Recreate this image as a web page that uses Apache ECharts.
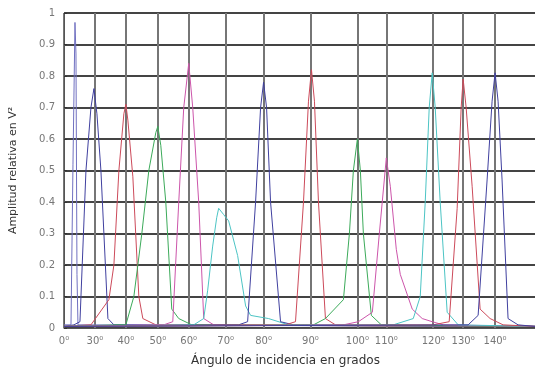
<!DOCTYPE html>
<html>
<head>
<meta charset="utf-8">
<script src="https://cdn.jsdelivr.net/npm/echarts@6/dist/echarts.min.js"></script>
<style>
  html, body { margin: 0; padding: 0; background: #fff; }
  #main { width: 535px; height: 373px; }
</style>
</head>
<body>
<div id="main"></div>
<script>
// x is a sample position along the sweep; the angle labels sit on chosen positions
var tickPos = [0, 31, 62, 94, 125, 162, 200, 247, 294, 323, 370, 400, 432];
var tickText = ["0⁰", "30⁰", "40⁰", "50⁰", "60⁰", "70⁰", "80⁰", "90⁰", "100⁰", "110⁰", "120⁰", "130⁰", "140⁰"];

// one curve per incidence angle: [position, amplitude]
var blue1 = [[0, 0.01], [7, 0.01], [9, 0.52], [11, 0.97], [12, 0.87], [13, 0.17], [14, 0.01], [472, 0.005]];
var blue2 = [[0, 0.005], [10, 0.01], [16, 0.02], [22, 0.5], [27, 0.7], [30, 0.76], [33, 0.68], [37, 0.5], [44, 0.03], [50, 0.01], [472, 0.005]];
var red1 = [[0, 0.005], [27, 0.01], [45, 0.09], [50, 0.2], [55, 0.5], [60, 0.68], [62, 0.71], [64, 0.66], [69, 0.48], [75, 0.1], [79, 0.03], [92, 0.01], [472, 0.005]];
var green1 = [[0, 0.005], [55, 0.01], [62, 0.01], [70, 0.1], [78, 0.3], [85, 0.5], [92, 0.62], [94, 0.64], [97, 0.58], [102, 0.4], [108, 0.06], [115, 0.03], [128, 0.01], [472, 0.005]];
var mag1 = [[0, 0.005], [100, 0.01], [109, 0.02], [115, 0.4], [120, 0.7], [125, 0.84], [129, 0.7], [135, 0.4], [140, 0.03], [150, 0.01], [472, 0.005]];
var cyan1 = [[0, 0.005], [130, 0.01], [140, 0.03], [144, 0.12], [149, 0.26], [153, 0.35], [155, 0.38], [160, 0.36], [165, 0.34], [174, 0.23], [182, 0.07], [187, 0.04], [205, 0.03], [225, 0.01], [472, 0.005]];
var blue3 = [[0, 0.005], [175, 0.01], [184, 0.02], [192, 0.4], [197, 0.7], [200, 0.78], [203, 0.7], [207, 0.4], [217, 0.02], [230, 0.01], [472, 0.005]];
var red2 = [[0, 0.005], [222, 0.01], [232, 0.02], [240, 0.4], [245, 0.72], [248, 0.82], [251, 0.72], [255, 0.4], [262, 0.03], [272, 0.01], [472, 0.005]];
var green2 = [[0, 0.005], [250, 0.01], [262, 0.03], [280, 0.09], [286, 0.3], [290, 0.5], [294, 0.6], [297, 0.5], [300, 0.3], [308, 0.04], [318, 0.01], [472, 0.005]];
var mag2 = [[0, 0.005], [280, 0.01], [295, 0.02], [309, 0.05], [316, 0.3], [323, 0.54], [327, 0.45], [333, 0.25], [337, 0.17], [349, 0.06], [359, 0.03], [369, 0.02], [380, 0.01], [472, 0.005]];
var cyan2 = [[0, 0.005], [330, 0.01], [350, 0.03], [357, 0.1], [362, 0.4], [366, 0.7], [369, 0.81], [372, 0.7], [377, 0.4], [384, 0.05], [395, 0.01], [472, 0.005]];
var red3 = [[0, 0.005], [370, 0.01], [386, 0.02], [394, 0.38], [398, 0.7], [400, 0.79], [403, 0.7], [409, 0.45], [417, 0.06], [427, 0.03], [440, 0.01], [472, 0.005]];
var blue4 = [[0, 0.005], [405, 0.01], [415, 0.04], [424, 0.47], [429, 0.72], [432, 0.81], [435, 0.72], [439, 0.47], [445, 0.03], [455, 0.01], [472, 0.005]];

var BLUE = "#40409f", RED = "#cc4a5a", GREEN = "#3caa5a", MAG = "#cc55aa", CYAN = "#4cc4c4";
var curves = [
  [blue1, "#7070c0"], [blue2, BLUE], [red1, RED], [green1, GREEN], [mag1, MAG], [cyan1, CYAN],
  [blue3, BLUE], [red2, RED], [green2, GREEN], [mag2, MAG], [cyan2, CYAN], [red3, RED], [blue4, BLUE]
];

var myChart = echarts.init(document.getElementById("main"));

var series = [];
for (var i = 0; i < curves.length; i++) {
  series.push({
    type: "line",
    data: curves[i][0],
    symbol: "none",
    lineStyle: { color: curves[i][1], width: 1 },
    z: 3
  });
}

var option = {
  animation: false,
  backgroundColor: "#fff",
  grid: { left: 63, right: 0, top: 13, bottom: 45 },
  xAxis: {
    type: "value",
    min: 0,
    max: 472,
    name: "Ángulo de incidencia en grados",
    nameLocation: "middle",
    nameGap: 27,
    nameTextStyle: { color: "#333", fontSize: 12, fontFamily: "DejaVu Sans", padding: [0, 28, 0, 0] },
    axisLine: { show: true, onZero: false, lineStyle: { color: "#555" } },
    axisTick: { show: false, customValues: tickPos },
    axisLabel: {
      customValues: tickPos,
      color: "#777",
      fontSize: 10,
      fontFamily: "DejaVu Sans",
      margin: 8,
      formatter: function (v) {
        var k = tickPos.indexOf(v);
        return k >= 0 ? tickText[k] : "";
      }
    },
    splitLine: { show: true, lineStyle: { color: "#767676", width: 2 } }
  },
  yAxis: {
    type: "value",
    min: 0,
    max: 1,
    interval: 0.1,
    name: "Amplitud relativa en V²",
    nameLocation: "middle",
    nameGap: 45,
    nameTextStyle: { color: "#333", fontSize: 11, fontFamily: "DejaVu Sans" },
    axisLine: { show: true, lineStyle: { color: "#555" } },
    axisTick: { show: true, inside: true, length: 3, lineStyle: { color: "#333" } },
    axisLabel: { color: "#777", fontSize: 10, fontFamily: "DejaVu Sans", margin: 9 },
    splitLine: { show: true, lineStyle: { color: "#444", width: 2 } }
  },
  series: series
};

myChart.setOption(option);
</script>
</body>
</html>
